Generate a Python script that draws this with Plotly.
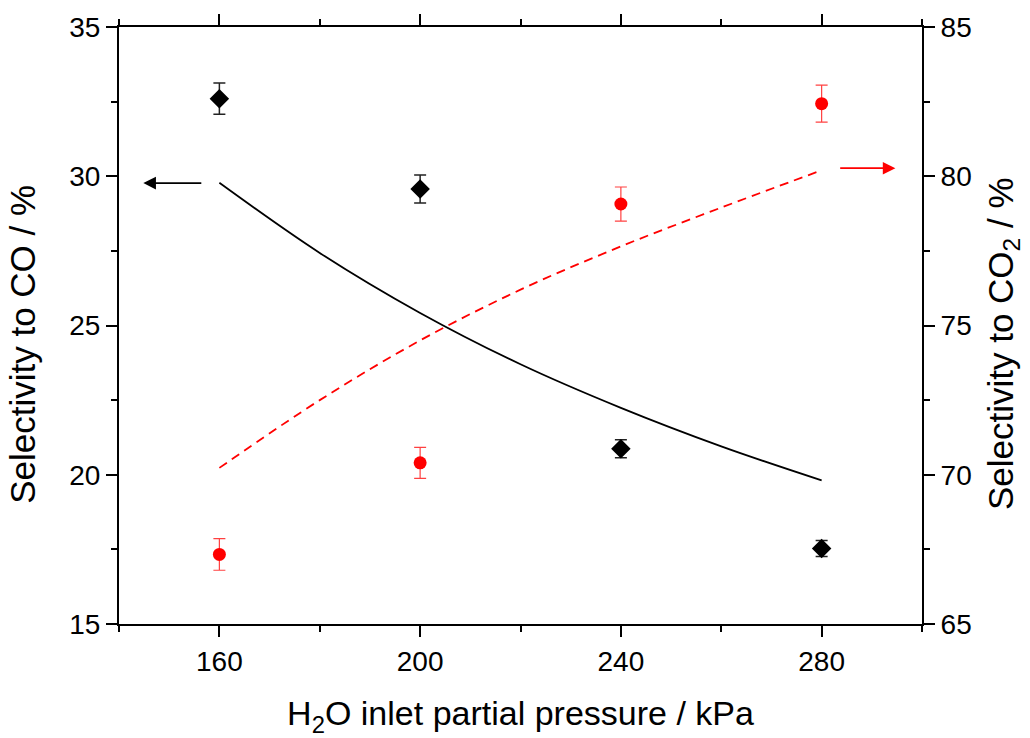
import plotly.graph_objects as go

# ---- data ----
pressure = [160, 200, 240, 280]
sel_co = [32.6, 29.57, 20.87, 17.53]
sel_co_err = [0.52, 0.47, 0.30, 0.27]
sel_co2 = [67.33, 70.4, 79.07, 82.43]
sel_co2_err = [0.53, 0.52, 0.57, 0.62]

model_p = [160, 180, 200, 220, 240, 260, 280]
model_co = [29.78, 27.43, 25.42, 23.70, 22.24, 20.95, 19.81]
model_co2 = [70.23, 72.5, 74.5, 76.2, 77.65, 78.95, 80.2]

x_range = [140, 300]
y_left_range = [15, 35]
y_right_range = [65, 85]

x_title = "H<sub>2</sub>O inlet partial pressure / kPa"
y_left_title = "Selectivity to CO / %"
y_right_title = "Selectivity to CO<sub>2</sub> / %"

FONT = "Arial, Liberation Sans, sans-serif"
TICK_SIZE = 28
TITLE_SIZE = 34
YTITLE_SIZE = 35

fig = go.Figure()

fig.add_trace(go.Scatter(
    x=model_p, y=model_co, mode="lines", line=dict(color="black", width=1.8, shape="spline"),
    showlegend=False, xaxis="x", yaxis="y"))
fig.add_trace(go.Scatter(
    x=model_p, y=model_co2, mode="lines",
    line=dict(color="#ff0000", width=1.8, dash="9px,6px", shape="spline"),
    showlegend=False, xaxis="x", yaxis="y2"))
fig.add_trace(go.Scatter(
    x=pressure, y=sel_co, mode="markers",
    marker=dict(symbol="diamond", size=15, color="black"),
    error_y=dict(type="data", array=sel_co_err, visible=True, color="#222222", thickness=1.5, width=6),
    showlegend=False, xaxis="x", yaxis="y"))
fig.add_trace(go.Scatter(
    x=pressure, y=sel_co2, mode="markers",
    marker=dict(symbol="circle", size=13, color="#ff0000"),
    error_y=dict(type="data", array=sel_co2_err, visible=True, color="rgba(255,0,0,0.75)", thickness=1.2, width=6),
    showlegend=False, xaxis="x", yaxis="y2"))

# arrows (annotation positions)
arrow_co = dict(x_tip=144.85, x_tail=156.7, y=29.77)
arrow_co2 = dict(x_tip=294.7, x_tail=283.4, y=80.27)

fig.add_annotation(x=arrow_co["x_tip"], y=arrow_co["y"], ax=arrow_co["x_tail"], ay=arrow_co["y"],
                   xref="x", yref="y", axref="x", ayref="y", text="", showarrow=True,
                   arrowhead=2, arrowsize=1.4, arrowwidth=1.8, arrowcolor="black")
fig.add_annotation(x=arrow_co2["x_tip"], y=arrow_co2["y"], ax=arrow_co2["x_tail"], ay=arrow_co2["y"],
                   xref="x", yref="y2", axref="x", ayref="y2", text="", showarrow=True,
                   arrowhead=2, arrowsize=1.4, arrowwidth=1.8, arrowcolor="#ff0000")

# y axis titles as rotated annotations
fig.add_annotation(text=y_left_title, xref="paper", yref="paper", x=-0.121, y=0.469,
                   xanchor="center", yanchor="middle", textangle=-90, showarrow=False,
                   font=dict(family=FONT, size=YTITLE_SIZE, color="black"))
fig.add_annotation(text=y_right_title, xref="paper", yref="paper", x=1.101, y=0.469,
                   xanchor="center", yanchor="middle", textangle=-90, showarrow=False,
                   font=dict(family=FONT, size=YTITLE_SIZE, color="black"))

axis_common = dict(showgrid=False, zeroline=False, showline=True, linecolor="black", linewidth=2,
                   tickcolor="black", tickwidth=2, ticklen=11,
                   tickfont=dict(family=FONT, size=TICK_SIZE, color="black"))

fig.update_layout(
    width=1030, height=738,
    margin=dict(l=119, r=108, t=26, b=113),
    paper_bgcolor="white", plot_bgcolor="white",
    font=dict(family=FONT, color="black"),
    xaxis=dict(**axis_common, range=x_range, tickmode="linear", tick0=160, dtick=40, ticks="outside",
               mirror="ticks",
               minor=dict(ticks="outside", ticklen=6, tickwidth=2, tickcolor="black", dtick=20, tick0=140),
               title=dict(text=x_title, font=dict(family=FONT, size=TITLE_SIZE, color="black"), standoff=26)),
    yaxis=dict(**axis_common, range=y_left_range, tickmode="linear", tick0=15, dtick=5, ticks="outside",
               minor=dict(ticks="outside", ticklen=6, tickwidth=2, tickcolor="black", dtick=2.5)),
    yaxis2=dict(**axis_common, range=y_right_range, overlaying="y", side="right", anchor="x",
                tickmode="linear", tick0=65, dtick=5, ticks="outside",
                minor=dict(ticks="outside", ticklen=6, tickwidth=2, tickcolor="black", dtick=2.5)),
)

fig.write_html("out.html")
